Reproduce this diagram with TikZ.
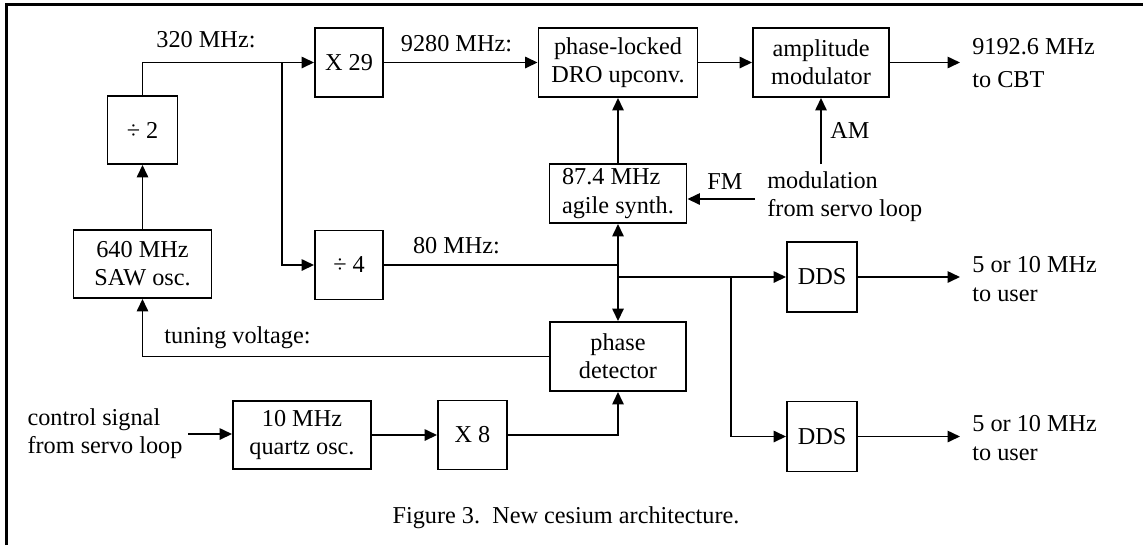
\documentclass[tikz,border=0pt]{standalone}
\usepackage{fontspec}
\setmainfont{Liberation Serif}
\usetikzlibrary{positioning,calc,arrows.meta}

\begin{document}
\begin{tikzpicture}[
  blk/.style={draw,line width=1.1pt,align=center,inner sep=2pt,
              font=\fontsize{13.8}{16}\selectfont},
  arr/.style={-{Triangle[length=7pt,width=6.4pt]},line width=1pt},
  ln/.style={line width=1pt},
  lbl/.style={font=\fontsize{13.8}{16}\selectfont,align=left,inner sep=0pt}]
  \useasboundingbox (0,0) rectangle (22.86,-10.9);
  % frame, cut off on the right and at the bottom
  \draw[line width=1.3pt] (0.13,-10.9) -- (0.13,-0.09) -- (22.86,-0.09);

  % blocks
  \node[blk,minimum width=1.4cm,minimum height=1.36cm]  (div2)   at (2.85,-2.60)  {÷ 2};
  \node[blk,minimum width=2.76cm,minimum height=1.36cm] (saw)    at (2.85,-5.28)  {640 MHz\\SAW osc.};
  \node[blk,minimum width=1.36cm,minimum height=1.38cm] (x29)    at (6.98,-1.25)  {X 29};
  \node[blk,minimum width=1.36cm,minimum height=1.38cm] (div4)   at (6.98,-5.30)  {÷ 4};
  \node[blk,minimum width=3.18cm,minimum height=1.38cm] (dro)    at (12.36,-1.25) {phase-locked\\DRO upconv.};
  \node[blk,minimum width=2.72cm,minimum height=1.38cm] (ammod)  at (16.42,-1.25) {amplitude\\modulator};
  \node[blk,minimum width=2.74cm,minimum height=1.18cm,align=left] (synth) at (12.36,-3.87) {87.4 MHz\\agile synth.};
  \node[blk,minimum width=2.72cm,minimum height=1.38cm] (pd)     at (12.36,-7.13) {phase\\detector};
  \node[blk,minimum width=2.76cm,minimum height=1.36cm] (quartz) at (6.04,-8.70)  {10 MHz\\quartz osc.};
  \node[blk,minimum width=1.38cm,minimum height=1.38cm] (x8)     at (9.45,-8.70)  {X 8};
  \node[blk,minimum width=1.4cm,minimum height=1.4cm]   (dds1)   at (16.44,-5.54) {DDS};
  \node[blk,minimum width=1.4cm,minimum height=1.4cm]   (dds2)   at (16.44,-8.73) {DDS};

  % texts
  \node[lbl] (l320)  at (4.12,-0.80) {320 MHz:};
  \node[lbl] (l9280) at (9.13,-0.88) {9280 MHz:};
  \node[lbl] (l80)   at (9.13,-4.92) {80 MHz:};
  \node[lbl] (ltune) at (4.75,-6.76) {tuning voltage:};
  \node[lbl] (lfm)   at (14.5,-3.64) {FM};
  \node[lbl] (lam)   at (17.0,-2.60) {AM};
  \node[lbl,anchor=west] (mod)  at (15.34,-3.94) {modulation\\from servo loop};
  \node[lbl]             (ctrl) at (2.1,-8.68)   {control signal\\from servo loop};
  \node[lbl,anchor=west] (ocbt) at (19.44,-1.26) {9192.6 MHz\\[3pt]to CBT};
  \node[lbl,anchor=west] (ou1)  at (19.44,-5.58) {5 or 10 MHz\\to user};
  \node[lbl,anchor=west] (ou2)  at (19.44,-8.76) {5 or 10 MHz\\to user};
  \node[lbl] (cap) at (11.32,-10.36) {Figure 3.\ \ New cesium architecture.};

  % free ends and junctions
  \coordinate (br320)  at (5.64,-1.25);
  \coordinate (j80)    at (12.36,-5.30);
  \coordinate (jdds)   at (12.36,-5.54);
  \coordinate (bdds)   at (14.62,-5.54);
  \coordinate (fmsrc)  at (15.10,-3.98);
  \coordinate (amsrc)  at (16.42,-3.28);
  \coordinate (ctlsrc) at (3.76,-8.68);
  \coordinate (cbt)    at (19.2,-1.25);
  \coordinate (user1)  at (19.2,-5.54);
  \coordinate (user2)  at (19.2,-8.73);

  % connectors
  \draw[arr] (saw) -- (div2);
  \draw[arr] (div2.north) |- (x29);
  \draw[arr] (br320) |- (div4);
  \draw[arr] (x29) -- (dro);
  \draw[arr] (dro) -- (ammod);
  \draw[arr] (ammod) -- (cbt);
  \draw[arr] (synth) -- (dro);
  \draw[arr] (fmsrc) -- (fmsrc -| synth.east);
  \draw[arr] (amsrc) -- (ammod);
  \draw[ln]  (div4) -- (j80);
  \draw[arr] (j80) -- (synth);
  \draw[arr] (j80) -- (pd);
  \draw[arr] (jdds) -- (dds1);
  \draw[arr] (bdds) |- (dds2);
  \draw[arr] (dds1) -- (user1);
  \draw[arr] (dds2) -- (user2);
  \draw[arr] (pd) -| (saw);
  \draw[arr] (ctlsrc) -- (ctlsrc -| quartz.west);
  \draw[arr] (quartz) -- (x8);
  \draw[arr] (x8) -| (pd);
\end{tikzpicture}
\end{document}
